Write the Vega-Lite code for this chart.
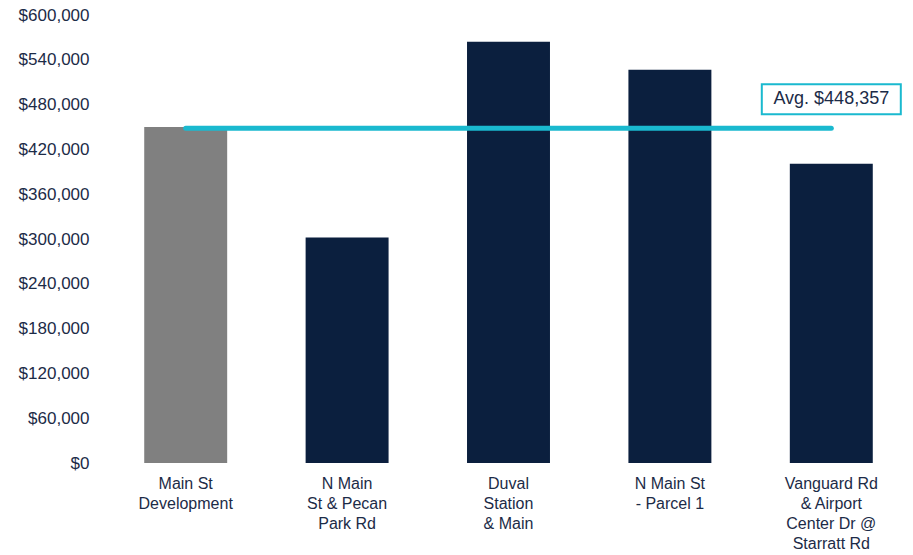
{
  "$schema": "https://vega.github.io/schema/vega-lite/v6.json",
  "width": 807,
  "height": 448,
  "autosize": {"type": "none"},
  "padding": {"left": 105, "top": 15, "right": 1, "bottom": 92},
  "background": "white",
  "config": {
    "view": {"stroke": null},
    "font": "Liberation Sans"
  },
  "datasets": {
    "bars": [
      {"name": "Main St\nDevelopment", "value": 450000, "kind": "subject"},
      {"name": "N Main\nSt & Pecan\nPark Rd", "value": 301900, "kind": "comp"},
      {"name": "Duval\nStation\n& Main", "value": 564300, "kind": "comp"},
      {"name": "N Main St\n- Parcel 1", "value": 526600, "kind": "comp"},
      {"name": "Vanguard Rd\n& Airport\nCenter Dr @\nStarratt Rd", "value": 400628, "kind": "comp"}
    ],
    "avg": [
      {"start": "Main St\nDevelopment", "end": "Vanguard Rd\n& Airport\nCenter Dr @\nStarratt Rd", "avg": 448357, "label": "Avg. $448,357"}
    ]
  },
  "layer": [
    {
      "data": {"name": "bars"},
      "mark": {"type": "bar"},
      "encoding": {
        "x": {
          "field": "name", "type": "nominal", "sort": null,
          "scale": {
            "domain": ["Main St\nDevelopment", "N Main\nSt & Pecan\nPark Rd", "Duval\nStation\n& Main", "N Main St\n- Parcel 1", "Vanguard Rd\n& Airport\nCenter Dr @\nStarratt Rd"],
            "paddingInner": 0.486, "paddingOuter": 0.243
          },
          "axis": {
            "title": null, "labelAngle": 0, "domain": false, "ticks": false,
            "labelPadding": 12, "labelFontSize": 16, "labelColor": "#1c2b47",
            "labelLineHeight": 20, "labelFont": "Liberation Sans",
            "labelExpr": "split(datum.label, '\\n')", "labelLimit": 200
          }
        },
        "y": {
          "field": "value", "type": "quantitative",
          "scale": {"domain": [0, 600000], "nice": false},
          "axis": {
            "title": null, "domain": false, "ticks": false, "grid": false,
            "values": [0, 60000, 120000, 180000, 240000, 300000, 360000, 420000, 480000, 540000, 600000],
            "format": "$,.0f", "labelPadding": 16, "labelFontSize": 17,
            "labelColor": "#1c2b47", "labelFont": "Liberation Sans"
          }
        },
        "color": {
          "field": "kind", "type": "nominal",
          "scale": {"domain": ["subject", "comp"], "range": ["#808080", "#0b1f3e"]},
          "legend": null
        }
      }
    },
    {
      "data": {"name": "avg"},
      "mark": {"type": "rule", "color": "#1ab9cf", "strokeWidth": 5, "strokeCap": "round"},
      "encoding": {
        "x": {"field": "start", "type": "nominal"},
        "x2": {"field": "end"},
        "y": {"field": "avg", "type": "quantitative"}
      }
    },
    {
      "data": {"name": "avg"},
      "mark": {
        "type": "point",
        "shape": "M-1,-0.216L1,-0.216L1,0.216L-1,0.216Z",
        "size": 19321,
        "filled": false,
        "fill": "#ffffff",
        "fillOpacity": 1,
        "stroke": "#1ab9cf",
        "strokeWidth": 2,
        "opacity": 1,
        "yOffset": -29
      },
      "encoding": {
        "x": {"field": "end", "type": "nominal"},
        "y": {"field": "avg", "type": "quantitative"}
      }
    },
    {
      "data": {"name": "avg"},
      "mark": {
        "type": "text",
        "font": "Liberation Sans",
        "fontSize": 18,
        "color": "#1c2b47",
        "align": "center",
        "baseline": "middle",
        "yOffset": -29
      },
      "encoding": {
        "x": {"field": "end", "type": "nominal"},
        "y": {"field": "avg", "type": "quantitative"},
        "text": {"field": "label"}
      }
    }
  ]
}
